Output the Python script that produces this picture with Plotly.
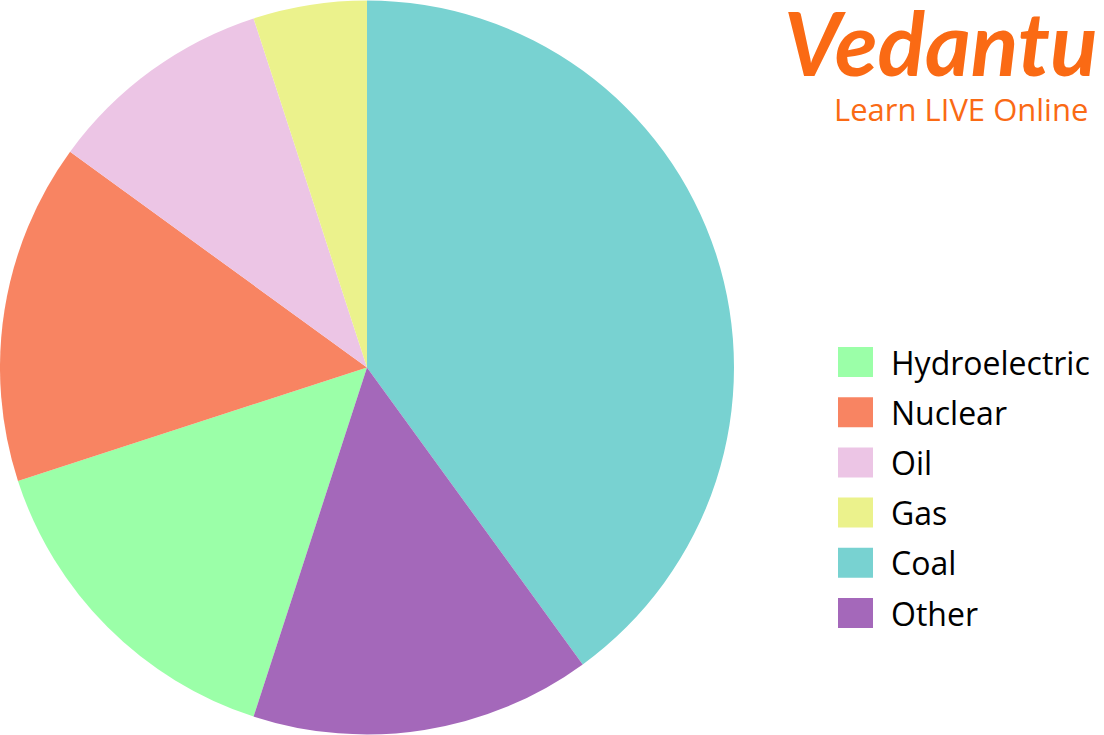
import plotly.graph_objects as go

labels = ['Hydroelectric', 'Nuclear', 'Oil', 'Gas', 'Coal', 'Other']
shares = [15, 15, 10, 5, 40, 15]
colors = ['#9BFFA8', '#F88462', '#ECC5E5', '#EBF28C', '#78D2D1', '#A468BA']

fig = go.Figure(go.Pie(
    labels=labels, values=shares, sort=False, direction='clockwise',
    rotation=198, textinfo='none', hoverinfo='label+percent',
    marker=dict(colors=colors, line=dict(width=0)),
    domain=dict(x=[0, 734/1104], y=[0, 1]),
))

# legend drawn by hand so the swatches can be large
shapes = []
annotations = []
for i, (lab, col) in enumerate(zip(labels, colors)):
    yc = 1 - (362 + i*50.2) / 735
    shapes.append(dict(type='rect', xref='paper', yref='paper',
                       x0=838/1104, x1=873/1104, y0=yc - 15/735, y1=yc + 15/735,
                       fillcolor=col, line=dict(width=0)))
    annotations.append(dict(text=lab, xref='paper', yref='paper', x=889/1104, y=yc,
                            xanchor='left', yanchor='middle', showarrow=False,
                            font=dict(family='Open Sans', size=32, color='black')))

# Vedantu logo
annotations.append(dict(text='<i><b>Vedantu</b></i>', xref='paper', yref='paper',
                        x=1100/1104, y=1 - 42/735, xanchor='right', yanchor='middle', showarrow=False,
                        font=dict(family='Lato', size=88, color='#FA6A14')))
annotations.append(dict(text='Learn LIVE Online', xref='paper', yref='paper',
                        x=832/1104, y=1 - 109/735, xanchor='left', yanchor='middle', showarrow=False,
                        font=dict(family='Open Sans', size=31, color='#FA6A14')))

fig.update_layout(
    width=1104, height=735, margin=dict(l=0, r=0, t=0, b=0),
    paper_bgcolor='white', plot_bgcolor='white', showlegend=False,
    shapes=shapes, annotations=annotations,
)

fig.write_html("out.html", config={'displayModeBar': False},
               post_script="document.body.style.margin='0';")
